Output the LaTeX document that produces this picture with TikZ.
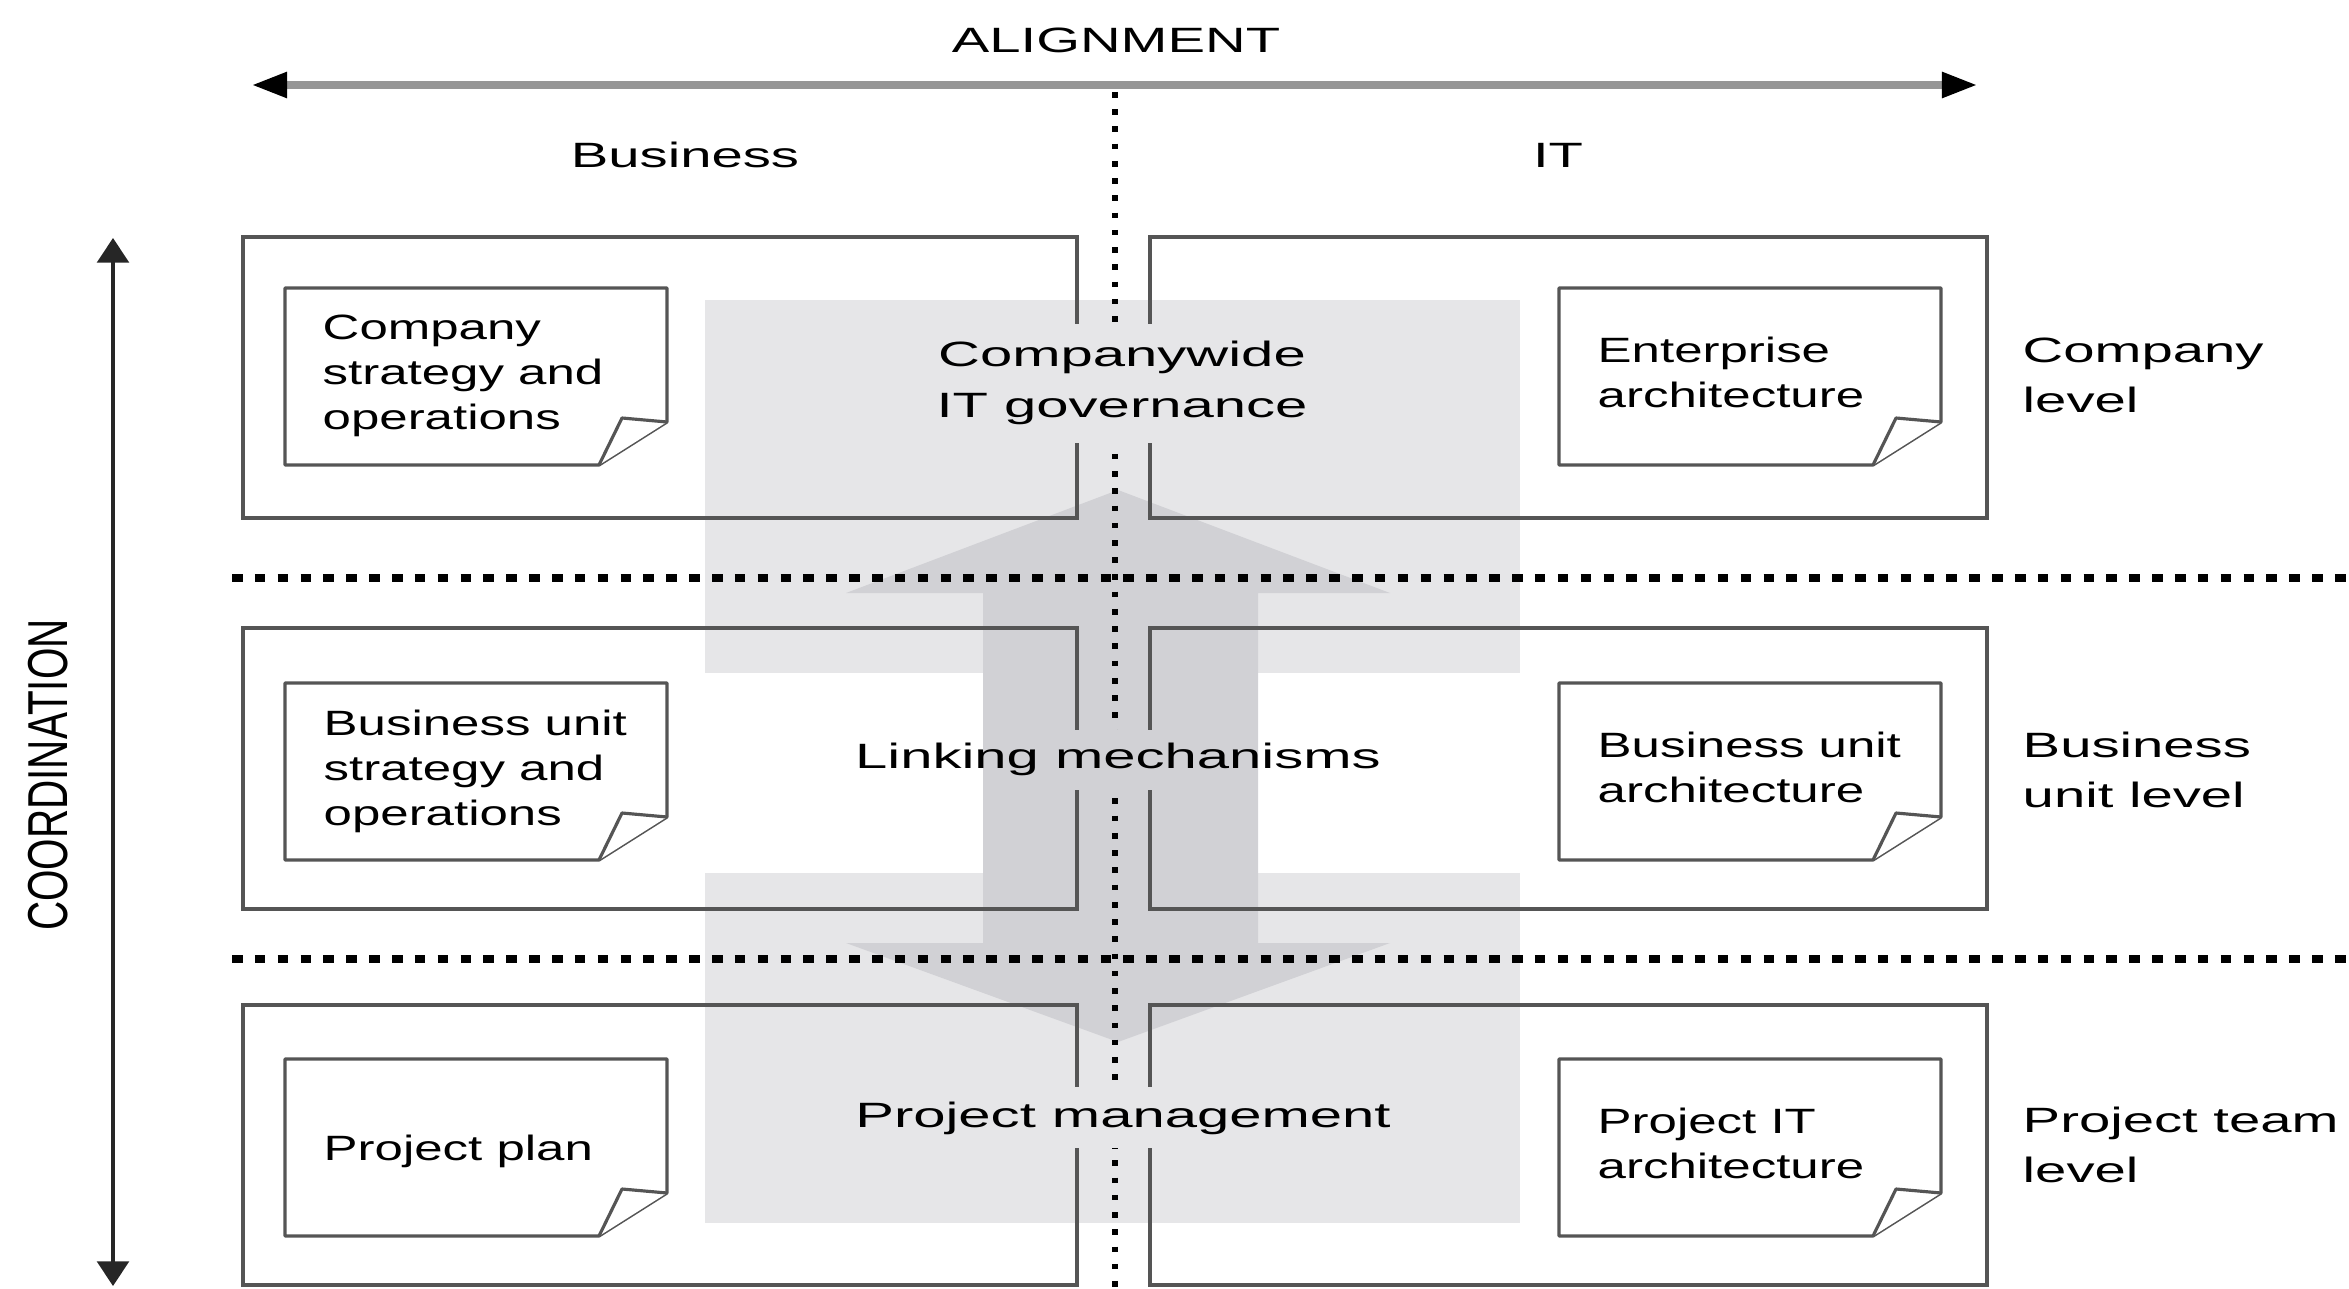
\documentclass[tikz,border=0pt]{standalone}
\usepackage{fontspec}
\setmainfont{Liberation Sans}
\newfontfamily\fA[FakeStretch=1.45]{Liberation Sans}
\newfontfamily\fB[FakeStretch=1.6]{Liberation Sans}
\newfontfamily\fC[FakeStretch=1.65]{Liberation Sans}
\newfontfamily\fD{Liberation Sans}
\usetikzlibrary{arrows.meta}
\definecolor{rectgray}{RGB}{230,230,232}
\definecolor{arrowgray}{RGB}{209,209,213}
\definecolor{linegray}{RGB}{85,85,85}
\definecolor{axisgray}{RGB}{150,150,150}
\tikzset{
  boxline/.style={draw=linegray, line width=0.9pt},
  doctext/.style={font=\fA\fontsize{10}{12.9}\selectfont, align=left, inner sep=0pt, anchor=north west},
  sidetext/.style={font=\fB\fontsize{10}{14.2}\selectfont, align=left, inner sep=0pt, anchor=north west},
  headtext/.style={font=\fB\fontsize{10}{13}\selectfont, inner sep=0pt, anchor=base},
  midtext/.style={font=\fC\fontsize{10}{14.5}\selectfont, align=center},
  hdots/.style={line width=2pt, dash pattern=on 3pt off 3.5pt, black},
  vdots/.style={line width=1.8pt, dash pattern=on 1.6pt off 3.3pt, black},
  docpic/.pic={
    \draw[boxline, fill=white, line join=round] (0,0) -- (382,0) -- (382,134) -- (314,177) -- (0,177) -- cycle;
    \draw[boxline, fill=white, line join=round] (314,177) -- (337,130) -- (382,134);
  }
}
\begin{document}
\begin{tikzpicture}[x=0.01cm, y=-0.01cm]
\useasboundingbox (0,0) rectangle (2349,1288);

% grey backdrops
\fill[rectgray] (705,300) rectangle (1520,673);
\fill[rectgray] (705,873) rectangle (1520,1223);
% double-headed vertical arrow
\fill[arrowgray] (1118,490) -- (1390,593) -- (1258,593) -- (1258,943) -- (1390,943)
  -- (1118,1042) -- (846,943) -- (983,943) -- (983,593) -- (846,593) -- cycle;

% outer boxes
\draw[boxline] (243,237) rectangle (1077,518);
\draw[boxline] (1150,237) rectangle (1987,518);
\draw[boxline] (243,628) rectangle (1077,909);
\draw[boxline] (1150,628) rectangle (1987,909);
\draw[boxline] (243,1005) rectangle (1077,1285);
\draw[boxline] (1150,1005) rectangle (1987,1285);

% documents
\pic (dA) at (285,288) {docpic};
\pic (dB) at (1559,288) {docpic};
\pic (dC) at (285,683) {docpic};
\pic (dD) at (1559,683) {docpic};
\pic (dE) at (285,1059) {docpic};
\pic (dF) at (1559,1059) {docpic};

% axes
\coordinate (aL) at (252,85);
\coordinate (aR) at (1977,85);
\draw[axisgray, line width=2pt, {Triangle[length=10pt,width=7pt,color=black]}-{Triangle[length=10pt,width=7pt,color=black]}] (aL) -- (aR);
\coordinate (cT) at (113,238);
\coordinate (cB) at (113,1286);
\draw[black!85, line width=1pt, {Triangle[length=7pt,width=9pt]}-{Triangle[length=7pt,width=9pt]}] (cT) -- (cB);

% dotted separators
\coordinate (h1a) at (232,578); \coordinate (h1b) at (2349,578);
\coordinate (h2a) at (232,959); \coordinate (h2b) at (2349,959);
\coordinate (vA) at (1115,92); \coordinate (vB) at (1115,1288);
\draw[hdots] (h1a) -- (h1b);
\draw[hdots] (h2a) -- (h2b);
\draw[vdots] (vA) -- (vB);

% headers
\node[headtext] (align) at (1116,53) {ALIGNMENT};
\node[headtext] (bus) at (685,167) {Business};
\node[headtext] (it) at (1558,167) {IT};
\node[rotate=90, inner sep=0pt] (coord) at (48,775) {\fD\fontsize{10}{12}\selectfont\scalebox{1.15}[1.6]{COORDINATION}};

% document texts
\node[doctext] (tA) at (322,314) {Company\\strategy and\\operations};
\node[doctext] (tC) at (323,709) {Business unit\\strategy and\\operations};
\node[doctext, anchor=base west] (tE) at (323,1160) {Project plan};
\node[doctext] (tB) at (1597,336) {Enterprise\\architecture};
\node[doctext] (tD) at (1597,731) {Business unit\\architecture};
\node[doctext] (tF) at (1597,1107) {Project IT\\architecture};

% level labels
\node[sidetext] (l1) at (2022,337) {Company\\level};
\node[sidetext] (l2) at (2022,731) {Business\\unit level};
\node[sidetext] (l3) at (2022,1106) {Project team\\level};

% central labels
\node[midtext, fill=rectgray, anchor=north, inner xsep=3pt, inner ysep=5pt] (gov) at (1122,323) {Companywide\\IT governance};
\fill[arrowgray] (983,730) rectangle (1258,790);
\node[midtext, inner sep=0pt, anchor=base] (link) at (1118,768) {Linking mechanisms};
\node[midtext, fill=rectgray, inner xsep=3pt, inner ysep=4pt, anchor=base] (pm) at (1123,1127) {Project management};
\end{tikzpicture}
\end{document}
